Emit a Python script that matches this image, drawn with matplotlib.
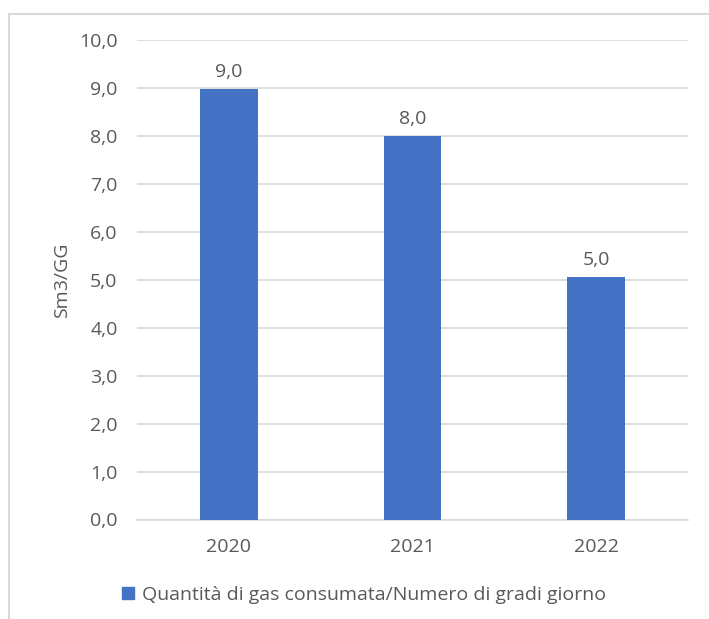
import matplotlib
matplotlib.use("Agg")
import matplotlib.pyplot as plt
from matplotlib.lines import Line2D
from matplotlib.patches import Patch

categories = ["2020", "2021", "2022"]
values = [8.97, 7.99, 5.05]
labels = ["9,0", "8,0", "5,0"]
yticks = [0, 1, 2, 3, 4, 5, 6, 7, 8, 9, 10]
ytick_labels = ["0,0", "1,0", "2,0", "3,0", "4,0", "5,0", "6,0", "7,0", "8,0", "9,0", "10,0"]
series_name = "Quantità di gas consumata/Numero di gradi giorno"

plt.rcParams['font.family'] = ['Open Sans', 'DejaVu Sans']
grey = "#595959"
fs = 14
W, H = 709, 619
fig = plt.figure(figsize=(W/100, H/100), dpi=100)
ax = fig.add_axes([137/W, 1-519.5/H, (688-137)/W, (519.5-40)/H])

x = list(range(len(categories)))
ax.bar(x, values, width=0.315, color="#4472C4", zorder=3)
for xi, v, lab in zip(x, values, labels):
    ax.annotate(lab, (xi, v), xytext=(0, 6), textcoords="offset points",
                ha="center", va="bottom", fontsize=fs, color=grey)

ax.set_xlim(-0.5, 2.5)
ax.set_ylim(0, 10)
ax.set_yticks(yticks)
ax.set_yticklabels(ytick_labels)
ax.set_xticks(x)
ax.set_xticklabels(categories)
ax.tick_params(axis='both', length=0, labelsize=fs, colors=grey)
ax.tick_params(axis='y', pad=14)
ax.tick_params(axis='x', pad=13)
ax.yaxis.grid(True, color="#D9D9D9", linewidth=1.2, zorder=0)
for s in ["top", "right", "left"]:
    ax.spines[s].set_visible(False)
ax.spines["bottom"].set_color("#D9D9D9")
ax.spines["bottom"].set_linewidth(1.2)
ax.set_ylabel("Sm3/GG", fontsize=fs, color=grey, labelpad=6)

# outer frame (top and left)
fig.add_artist(Line2D([9/W, 9/W], [0, 1-14/H], transform=fig.transFigure, color="#D9D9D9", lw=1.5))
fig.add_artist(Line2D([9/W, 1], [1-14/H, 1-14/H], transform=fig.transFigure, color="#D9D9D9", lw=1.5))

fig.legend(handles=[Patch(color="#4472C4", label=series_name)], loc="center",
           bbox_to_anchor=(364/W, 1-595/H), frameon=False, fontsize=fs,
           labelcolor=grey, handlelength=0.6, handleheight=0.6, handletextpad=0.4)

fig.savefig("out.png", dpi=100, facecolor="white")
